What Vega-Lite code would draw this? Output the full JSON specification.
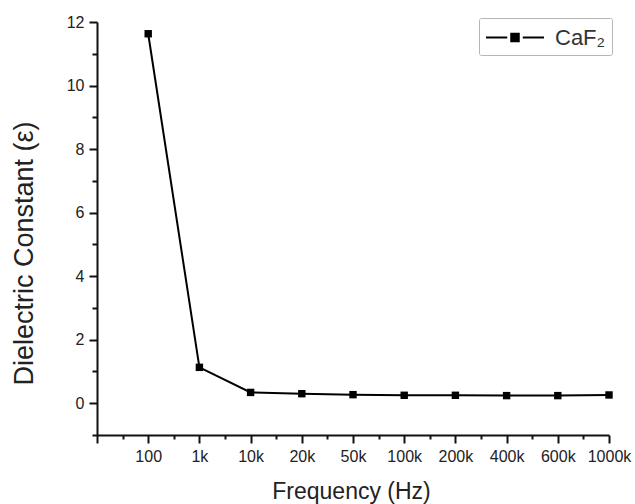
{
  "$schema": "https://vega.github.io/schema/vega-lite/v6.json",
  "autosize": "none",
  "width": 512,
  "height": 413,
  "padding": {"left": 97, "top": 22, "right": 26, "bottom": 69},
  "background": "white",
  "config": {
    "view": {"stroke": null},
    "font": "Liberation Sans",
    "axis": {
      "grid": false,
      "domainColor": "#111",
      "tickColor": "#111",
      "labelColor": "#222",
      "titleColor": "#222",
      "labelFont": "Liberation Sans",
      "titleFont": "Liberation Sans",
      "titleFontWeight": "normal"
    }
  },
  "data": {
    "values": [
      {"idx": 1, "frequency": "100", "eps": 11.63, "series": "CaF₂"},
      {"idx": 2, "frequency": "1k", "eps": 1.13, "series": "CaF₂"},
      {"idx": 3, "frequency": "10k", "eps": 0.34, "series": "CaF₂"},
      {"idx": 4, "frequency": "20k", "eps": 0.3, "series": "CaF₂"},
      {"idx": 5, "frequency": "50k", "eps": 0.27, "series": "CaF₂"},
      {"idx": 6, "frequency": "100k", "eps": 0.25, "series": "CaF₂"},
      {"idx": 7, "frequency": "200k", "eps": 0.25, "series": "CaF₂"},
      {"idx": 8, "frequency": "400k", "eps": 0.24, "series": "CaF₂"},
      {"idx": 9, "frequency": "600k", "eps": 0.24, "series": "CaF₂"},
      {"idx": 10, "frequency": "1000k", "eps": 0.26, "series": "CaF₂"}
    ]
  },
  "resolve": {"axis": {"x": "independent", "y": "independent"}},
  "layer": [
    {
      "mark": {"type": "point", "opacity": 0},
      "encoding": {
        "x": {
          "field": "idx", "type": "quantitative",
          "scale": {"domain": [0, 10], "nice": false, "zero": false},
          "axis": {"orient": "bottom", "values": [0.5,1.5,2.5,3.5,4.5,5.5,6.5,7.5,8.5,9.5], "labels": false, "domain": false, "tickSize": 4, "tickWidth": 2, "title": null}
        },
        "y": {
          "field": "eps", "type": "quantitative",
          "scale": {"domain": [-1, 12], "nice": false, "zero": false},
          "axis": {"orient": "left", "values": [-1,1,3,5,7,9,11], "labels": false, "domain": false, "tickSize": 5, "tickWidth": 2, "title": null}
        }
      }
    },
    {
      "mark": {"type": "line", "strokeWidth": 2, "point": {"shape": "square", "size": 55, "filled": true, "opacity": 1}},
      "encoding": {
        "x": {
          "field": "idx", "type": "quantitative",
          "scale": {"domain": [0, 10], "nice": false, "zero": false},
          "axis": {
            "orient": "bottom",
            "values": [0,1,2,3,4,5,6,7,8,9,10],
            "labelExpr": "['','100','1k','10k','20k','50k','100k','200k','400k','600k','1000k'][datum.value]",
            "labelFontSize": 16,
            "labelPadding": 5,
            "labelOverlap": false,
            "labelFlush": false,
            "tickSize": 8,
            "tickWidth": 2,
            "domainWidth": 2,
            "title": "Frequency (Hz)",
            "titleFontSize": 23,
            "titleBaseline": "alphabetic",
            "titleX": 254,
            "titleY": 63
          }
        },
        "y": {
          "field": "eps", "type": "quantitative",
          "scale": {"domain": [-1, 12], "nice": false, "zero": false},
          "axis": {
            "orient": "left",
            "values": [0,2,4,6,8,10,12],
            "labelFontSize": 16,
            "labelPadding": 5,
            "tickSize": 8,
            "tickWidth": 2,
            "domainWidth": 2,
            "title": "Dielectric Constant (ε)",
            "titleFontSize": 27,
            "titleBaseline": "alphabetic",
            "titleAngle": -90,
            "titleX": -65,
            "titleY": 231
          }
        },
        "color": {
          "field": "series", "type": "nominal",
          "scale": {"range": ["#000000"]},
          "legend": {
            "title": null,
            "orient": "none",
            "legendX": 382,
            "legendY": -4,
            "padding": 6,
            "strokeColor": "#b5b5b5",
            "cornerRadius": 2,
            "symbolType": "M-1,0H0.7M1.02,-0.3H1.62V0.3H1.02ZM1.94,0H3.64",
            "symbolSize": 625,
            "symbolStrokeWidth": 2,
            "symbolStrokeColor": "#000000",
            "symbolFillColor": "#000000",
            "labelOffset": 43,
            "labelFontSize": 22,
            "labelColor": "#333",
            "labelFont": "Liberation Sans",
            "encode": {"symbols": {"update": {"fill": {"value": "#000000"}, "stroke": {"value": "#000000"}, "strokeWidth": {"value": 2}, "opacity": {"value": 1}}}}
          }
        }
      }
    }
  ]
}
